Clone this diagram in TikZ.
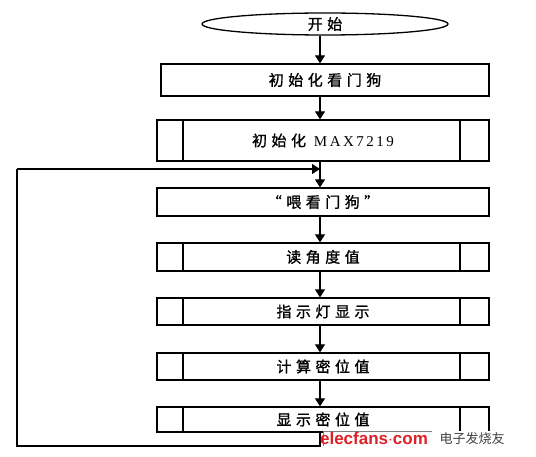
\documentclass[tikz,border=0pt]{standalone}
\usepackage{fontspec}
\setmainfont{Liberation Serif}
\newfontfamily\cjk[LetterSpace=30,FakeBold=1.2]{Noto Sans CJK SC}
\newfontfamily\cjkplain{Noto Sans CJK SC}
\newfontfamily\wmfont{Liberation Sans}
\usetikzlibrary{shapes.geometric,arrows.meta}
\definecolor{wmred}{RGB}{222,32,40}
\tikzset{
  box/.style={draw, line width=1.3pt, minimum width=332pt, minimum height=28pt, inner sep=0pt, font=\fontsize{15pt}{18pt}\selectfont\cjk},
  subbox/.style={box, path picture={
      \draw[line width=2.4pt] ([xshift=26pt]path picture bounding box.north west) -- ([xshift=26pt]path picture bounding box.south west);
      \draw[line width=2.4pt] ([xshift=-29pt]path picture bounding box.north east) -- ([xshift=-29pt]path picture bounding box.south east);}},
  link/.style={line width=1.2pt, -{Triangle[width=10pt,length=8pt]}},
  plain/.style={line width=1.2pt}
}
\begin{document}
\begin{tikzpicture}[x=1pt,y=-1pt]
\useasboundingbox (0,0) rectangle (536,457);
\coordinate (spine) at (320,0);
\node[draw, ellipse, line width=1.3pt, minimum width=246pt, minimum height=22pt, inner sep=0pt, font=\fontsize{15pt}{18pt}\selectfont\cjk] (start) at (325,24) {开始};
\node[box, minimum width=328pt, minimum height=32pt] (b1) at (325,80) {初始化看门狗};
\node[subbox, minimum height=41pt] (b2) at (323,140.5) {初始化 {\fontsize{15pt}{18pt}\selectfont\rmfamily M\,A\,X\,7\,2\,1\,9}};
\node[box] (b3) at (323,202) {“喂看门狗”};
\node[subbox] (b4) at (323,257) {读角度值};
\node[subbox, minimum height=27pt] (b5) at (323,311.5) {指示灯显示};
\node[subbox, minimum height=27pt] (b6) at (323,366.5) {计算密位值};
\node[subbox, minimum height=25pt] (b7) at (323,419.5) {显示密位值};
\coordinate (loopR) at (320,169);
\coordinate (loopTL) at (17,169);
\coordinate (loopBL) at (17,446);
\coordinate (loopBR) at (320,446);
\draw[link] (start.south -| spine) -- (b1.north -| spine);
\draw[link] (b1.south -| spine) -- (b2.north -| spine);
\draw[link] (b2.south -| spine) -- (b3.north -| spine);
\draw[link] (b3.south -| spine) -- (b4.north -| spine);
\draw[link] (b4.south -| spine) -- (b5.north -| spine);
\draw[link] (b5.south -| spine) -- (b6.north -| spine);
\draw[link] (b6.south -| spine) -- (b7.north -| spine);
\draw[plain] (b7.south -| spine) -- (loopBR) -- (loopBL) -- (loopTL);
\draw[link] (loopTL) -- (loopR);
% watermark
\fill[white] (323,431) rectangle (536,457);
\draw[gray, line width=0.6pt] (323,446) -- (323,431) -- (432,431);
\node[font=\fontsize{17pt}{18pt}\selectfont\wmfont\bfseries, text=wmred, inner sep=0pt] (wm1) at (374,438) {elecfans$\cdot$com};
\node[font=\fontsize{13pt}{14pt}\selectfont\cjkplain, text=black!75, inner sep=0pt] (wm2) at (472,439) {电子发烧友};
\end{tikzpicture}
\end{document}
